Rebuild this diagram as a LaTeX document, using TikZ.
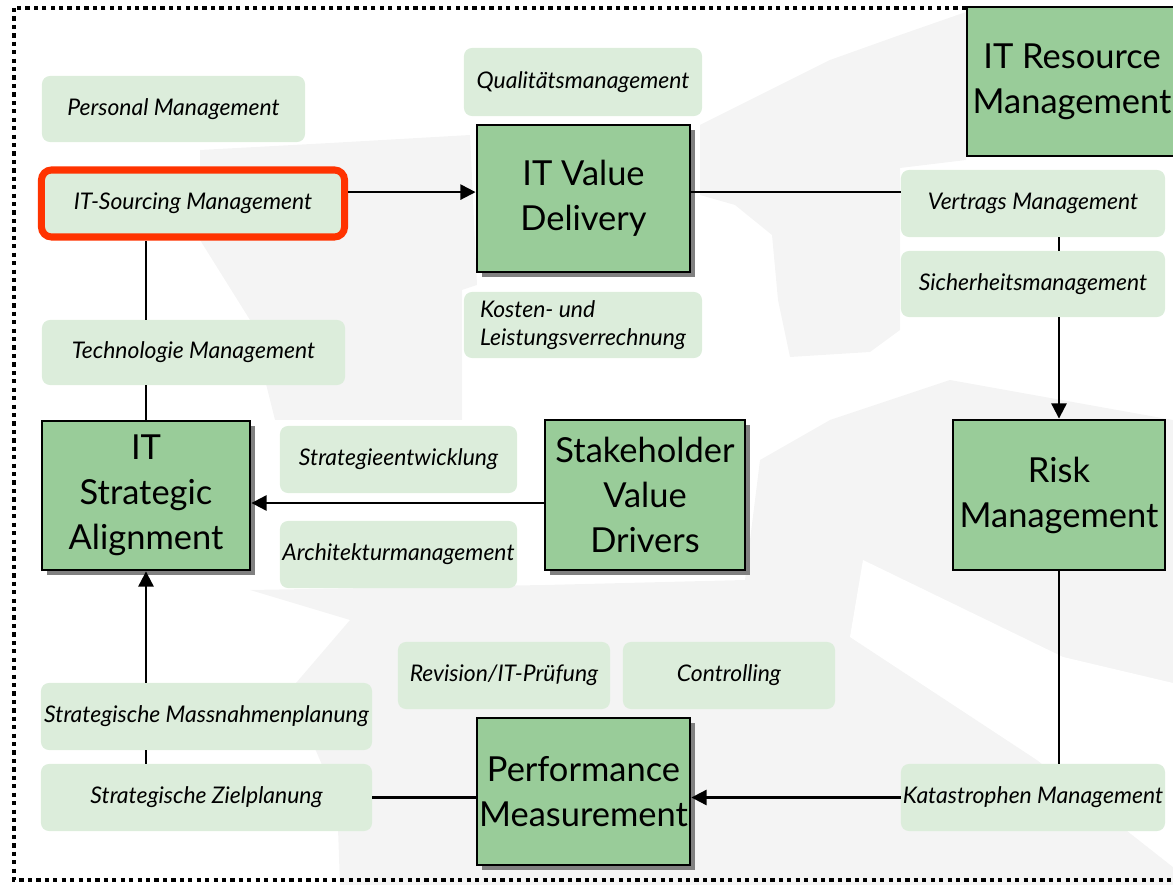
\documentclass[tikz,border=0pt]{standalone}
\usepackage{fontspec}
\setmainfont{Lato}
\usetikzlibrary{arrows.meta,shadows}

\definecolor{boxgreen}{HTML}{99CC99}
\definecolor{subgreen}{HTML}{DCEDDB}
\definecolor{markred}{HTML}{FF3300}
\definecolor{blobgray}{HTML}{F4F4F4}

\begin{document}
\begin{tikzpicture}[x=0.025cm,y=-0.025cm,
    mainbox/.style={draw=black,line width=2pt,fill=boxgreen,align=center,
        font=\fontsize{24.5}{32}\selectfont,inner sep=1pt},
    shadowbox/.style={mainbox,drop shadow={shadow xshift=0.12cm,shadow yshift=-0.12cm,
        fill=black!50,opacity=1}},
    subbox/.style={fill=subgreen,rounded corners=0.2cm,align=center,
        font=\fontsize{16.3}{20}\selectfont\itshape,inner sep=1pt,
        minimum height=1.675cm},
    line/.style={line width=1.5pt},
    arr/.style={line width=1.5pt,-{Triangle[length=0.38cm,width=0.38cm]}}]
    \useasboundingbox (0,0) rectangle (1173,885);
    % faint background shape
    \fill [blobgray] (700,125) -- (760,95) -- (830,60) -- (900,35) -- (966,12) -- (966,160)
        -- (900,168) -- (900,330) -- (870,352) -- (790,357) -- (778,300) -- (772,235)
        -- (735,205) -- (700,195) -- cycle;
    \fill [blobgray] (200,150) -- (330,143) -- (470,135) -- (477,285) -- (462,290)
        -- (462,420) -- (275,420) -- (250,320) -- (200,240) -- cycle;
    \fill [blobgray] (250,590) -- (545,585) -- (745,580) -- (760,460) -- (830,420)
        -- (950,380) -- (1173,420) -- (1173,885) -- (340,885) -- (337,800)
        -- (290,690) -- (350,620) -- cycle;
    \fill [white] (863,560) -- (1063,657) -- (1173,683) -- (1173,867) -- (1037,760)
        -- (850,637) -- cycle;
    % frame
    \draw [line width=2.2pt,dash pattern=on 3pt off 3pt] (14,8) rectangle (1200,880);

    % main boxes
    \node [shadowbox,minimum width=5.325cm,minimum height=3.675cm] (val) at (583.5,198.5) {IT Value\\Delivery};
    \node [mainbox,minimum width=5.25cm,minimum height=3.725cm] (res) at (1072,81.5) {IT Resource\\Management};
    \node [shadowbox,minimum width=5.2cm,minimum height=3.725cm] (align) at (146,495.5) {IT\\Strategic\\Alignment};
    \node [shadowbox,minimum width=5cm,minimum height=3.75cm] (stake) at (645,495) {Stakeholder\\Value\\Drivers};
    \node [mainbox,minimum width=5.3cm,minimum height=3.75cm] (risk) at (1059,495) {Risk\\Management};
    \node [shadowbox,minimum width=5.325cm,minimum height=3.675cm] (perf) at (583.5,791.5) {Performance\\Measurement};

    % sub boxes
    \node [subbox,minimum width=6.575cm,minimum height=1.65cm] (pers) at (173.5,109) {Personal Management};
    \node [subbox,draw=markred,line width=5pt,rounded corners=0.25cm,minimum width=7.575cm] (src) at (193,203.5) {IT-Sourcing Management};
    \node [subbox,minimum width=7.575cm,minimum height=1.625cm] (tech) at (193.5,352.5) {Technologie Management};
    \node [subbox,minimum width=5.95cm,minimum height=1.7cm] (qual) at (583,82) {Qualitätsmanagement};
    \node [subbox,align=left,minimum width=5.95cm,minimum height=1.65cm] (kost) at (583,325) {Kosten- und\\Leistungsverrechnung};
    \node [subbox,minimum width=6.6cm] (vert) at (1033,203.5) {Vertrags Management};
    \node [subbox,minimum width=6.6cm,minimum height=1.65cm] (sich) at (1033,284) {Sicherheitsmanagement};
    \node [subbox,minimum width=5.925cm] (strat) at (398.5,459.5) {Strategieentwicklung};
    \node [subbox,minimum width=5.925cm] (arch) at (398.5,554.5) {Architekturmanagement};
    \node [subbox,minimum width=5.3cm] (rev) at (504,675.5) {Revision/IT-Prüfung};
    \node [subbox,minimum width=5.3cm] (ctrl) at (729,675.5) {Controlling};
    \node [subbox,minimum width=8.275cm] (mass) at (206.5,716.5) {Strategische Massnahmenplanung};
    \node [subbox,minimum width=8.275cm] (ziel) at (206.5,797.5) {Strategische Zielplanung};
    \node [subbox,minimum width=6.6cm] (kat) at (1033,797.5) {Katastrophen Management};

    % connectors
    \coordinate (vin) at ([yshift=0.16cm]val.west);
    \coordinate (vout) at ([yshift=0.16cm]val.east);
    \coordinate (sin) at ([yshift=-0.2cm]stake.west);
    \draw [arr] (vin -| src.east) -- (vin);
    \draw [line] (vout) -- (vout -| vert.west);
    \draw [line] (vert.south -| risk.north) -- (sich.north -| risk.north);
    \draw [arr] (sich.south -| risk.north) -- (risk.north);
    \draw [line] (risk.south) -- (kat.north -| risk.south);
    \draw [arr] (kat.west) -- (kat.west -| perf.east);
    \draw [line] (ziel.east) -- (ziel.east -| perf.west);
    \draw [line] (ziel.north -| align.south) -- (mass.south -| align.south);
    \draw [arr] (mass.north -| align.south) -- (align.south);
    \draw [line] (align.north) -- (tech.south -| align.north);
    \draw [line] (tech.north -| align.north) -- (src.south -| align.north);
    \draw [arr] (sin) -- (sin -| align.east);
\end{tikzpicture}
\end{document}
